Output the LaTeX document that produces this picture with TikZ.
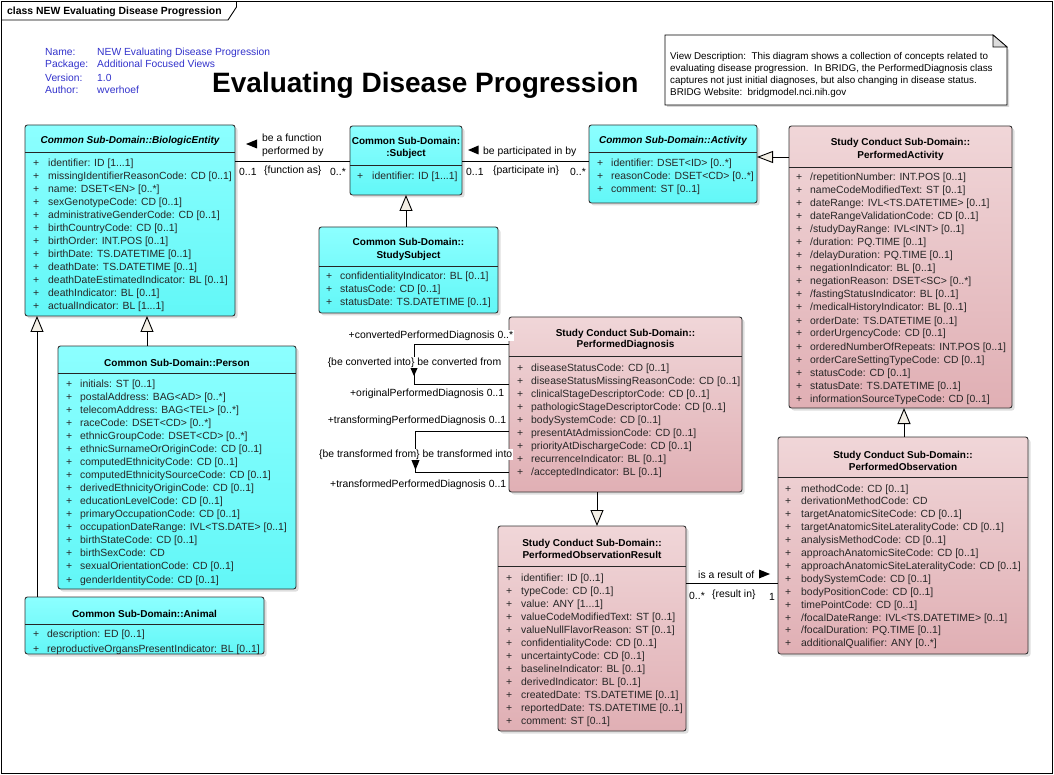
\documentclass[tikz,border=0pt]{standalone}
\usepackage{fontspec}
\setmainfont{Liberation Sans}
\usetikzlibrary{arrows.meta,shadows}

\definecolor{cyanT}{HTML}{8CFFFF}
\definecolor{cyanB}{HTML}{62F7F7}
\definecolor{pinkT}{HTML}{F0D6D8}
\definecolor{pinkB}{HTML}{E0AFB4}
\definecolor{genfill}{HTML}{F3EFE6}
\definecolor{metablue}{HTML}{3333CC}
\definecolor{foldgray}{HTML}{DCDCDC}

\newcommand{\attrfont}{\fontsize{10.4}{13}\selectfont}
\newcommand{\ttlfont}{\fontsize{10}{12}\selectfont\bfseries}
\newcommand{\metafont}{\fontsize{10.3}{12.5}\selectfont}
\newcommand{\notefont}{\fontsize{9.85}{12}\selectfont}
\newcommand{\tdd}{...}

\newcommand{\attrlist}[5]{%
  \foreach \aitem [count=\ai from 0] in {#5} {
    \node[attr] at (#1, #3+\ai*#4) {+};
    \node[attr] at (#2, #3+\ai*#4) {\aitem};
  }}

\tikzset{
 box/.style={draw=black!80, line width=0.9pt, rounded corners=2.5pt, anchor=north west, inner sep=0pt, outer sep=0pt,
   drop shadow={shadow xshift=2.5pt, shadow yshift=-2.5pt, fill=black!25, opacity=0.5}},
 cyanbox/.style={box, top color=cyanT, bottom color=cyanB},
 pinkbox/.style={box, top color=pinkT, bottom color=pinkB},
 sepline/.style={draw=black!85, line width=0.9pt},
 attr/.style={anchor=base west, inner sep=0pt, font=\attrfont, text=black!85},
 ctitle/.style={anchor=base, inner sep=0pt, font=\ttlfont},
 lbl/.style={anchor=base west, inner sep=0pt, font=\attrfont},
 lblr/.style={anchor=base east, inner sep=0.6pt, font=\attrfont, fill=white},
 assoc/.style={draw=black, line width=0.9pt},
 gen/.style={draw=black, line width=0.9pt, -{Triangle[length=16pt,width=13pt,fill=genfill]}},
 dirtri/.style={fill=black},
 meta/.style={anchor=base west, inner sep=0pt, font=\metafont, text=metablue},
}

\begin{document}
\begin{tikzpicture}[x=1pt,y=-1pt]
\useasboundingbox (0,0) rectangle (1054,775);
\fill[white] (0,0) rectangle (1054,775);

% frame and tab
\draw[line width=0.9pt] (1.5,1.5) rectangle (1052,773);
\draw[line width=0.9pt] (1.5,20) -- (228,20) -- (236.5,7) -- (236.5,1.5);
\node[anchor=base west, inner sep=0pt, font=\fontsize{10.4}{12}\selectfont\bfseries] (tab) at (7,14.5) {class NEW Evaluating Disease Progression};

% metadata
\node[meta] (mName) at (45,55.5) {Name:};
\node[meta] (mPack) at (45,68) {Package:};
\node[meta] (mVer) at (45,81.5) {Version:};
\node[meta] (mAuth) at (45,94) {Author:};
\node[meta] (vName) at (97,55.5) {NEW Evaluating Disease Progression};
\node[meta] (vPack) at (97,68) {Additional Focused Views};
\node[meta] (vVer) at (97,81.5) {1.0};
\node[meta] (vAuth) at (97,94) {wverhoef};

% big title
\node[anchor=base west, inner sep=0pt, font=\fontsize{28}{32}\selectfont\bfseries] (bigtitle) at (212,93) {Evaluating Disease Progression};

% note
\fill[black!15] (667,37) -- (995,37) -- (1009,50) -- (1009,107) -- (667,107) -- cycle;
\filldraw[fill=white, draw=black, line width=0.9pt] (665,35) -- (993,35) -- (1007,47) -- (1007,105) -- (665,105) -- cycle;
\filldraw[fill=foldgray, draw=black, line width=0.7pt] (993,35) -- (993,47) -- (1007,47) -- cycle;
\node[anchor=base west, inner sep=0pt, font=\notefont] (n1) at (670,60) {View Description:\ \ This diagram shows a collection of concepts related to};
\node[anchor=base west, inner sep=0pt, font=\notefont] (n2) at (670,72) {evaluating disease progression.\ \ In BRIDG, the PerformedDiagnosis class};
\node[anchor=base west, inner sep=0pt, font=\notefont] (n3) at (670,84) {captures not just initial diagnoses, but also changing in disease status.};
\node[anchor=base west, inner sep=0pt, font=\notefont] (n4) at (670,96) {BRIDG Website:\ \ bridgmodel.nci.nih.gov};

% ---------- class boxes ----------
\node[cyanbox, minimum width=210pt, minimum height=191pt] (be) at (25,125) {};
\node[cyanbox, minimum width=112pt, minimum height=69pt] (subj) at (350,126) {};
\node[cyanbox, minimum width=179pt, minimum height=86pt] (ss) at (319,227) {};
\node[cyanbox, minimum width=168pt, minimum height=78pt] (act) at (589,125) {};
\node[pinkbox, minimum width=223pt, minimum height=282pt] (pa) at (789,126) {};
\node[pinkbox, minimum width=233pt, minimum height=175pt] (pd) at (509,317) {};
\node[pinkbox, minimum width=250pt, minimum height=217pt] (po) at (778,437) {};
\node[pinkbox, minimum width=188pt, minimum height=205pt] (por) at (498,526) {};
\node[cyanbox, minimum width=238pt, minimum height=243pt] (person) at (58,346) {};
\node[cyanbox, minimum width=239pt, minimum height=57pt] (animal) at (25,597) {};

% separators
\draw[sepline] (be.west |- 0,152) -- (be.east |- 0,152);
\draw[sepline] (subj.west |- 0,165) -- (subj.east |- 0,165);
\draw[sepline] (ss.west |- 0,266) -- (ss.east |- 0,266);
\draw[sepline] (act.west |- 0,152) -- (act.east |- 0,152);
\draw[sepline] (pa.west |- 0,167) -- (pa.east |- 0,167);
\draw[sepline] (pd.west |- 0,356) -- (pd.east |- 0,356);
\draw[sepline] (po.west |- 0,477) -- (po.east |- 0,477);
\draw[sepline] (por.west |- 0,566) -- (por.east |- 0,566);
\draw[sepline] (person.west |- 0,373) -- (person.east |- 0,373);
\draw[sepline] (animal.west |- 0,624) -- (animal.east |- 0,624);

% titles
\node[ctitle, font=\ttlfont\itshape] (beT) at (130,144) {Common Sub-Domain::BiologicEntity};
\node[ctitle] (subjT1) at (406,144.5) {Common Sub-Domain:};
\node[ctitle] (subjT2) at (406,157) {:Subject};
\node[ctitle] (ssT1) at (408.5,246) {Common Sub-Domain::};
\node[ctitle] (ssT2) at (408.5,259) {StudySubject};
\node[ctitle, font=\ttlfont\itshape] (actT) at (673,144) {Common Sub-Domain::Activity};
\node[ctitle] (paT1) at (900.5,146) {Study Conduct Sub-Domain::};
\node[ctitle] (paT2) at (900.5,159) {PerformedActivity};
\node[ctitle] (pdT1) at (625.5,336) {Study Conduct Sub-Domain::};
\node[ctitle] (pdT2) at (625.5,348) {PerformedDiagnosis};
\node[ctitle] (poT1) at (903,458) {Study Conduct Sub-Domain::};
\node[ctitle] (poT2) at (903,470) {PerformedObservation};
\node[ctitle] (porT1) at (592,546) {Study Conduct Sub-Domain::};
\node[ctitle] (porT2) at (592,558) {PerformedObservationResult};
\node[ctitle] (personT) at (177,366) {Common Sub-Domain::Person};
\node[ctitle] (animalT) at (144.5,617) {Common Sub-Domain::Animal};

% attributes
\attrlist{33}{48}{166.5}{13}{{identifier: ID [1\tdd1]},{missingIdentifierReasonCode: CD [0..1]},{name: DSET<EN> [0..*]},{sexGenotypeCode: CD [0..1]},{administrativeGenderCode: CD [0..1]},{birthCountryCode: CD [0..1]},{birthOrder: INT.POS [0..1]},{birthDate: TS.DATETIME [0..1]},{deathDate: TS.DATETIME [0..1]},{deathDateEstimatedIndicator: BL [0..1]},{deathIndicator: BL [0..1]},{actualIndicator: BL [1\tdd1]}}
\attrlist{357}{372}{180}{13}{{identifier: ID [1\tdd1]}}
\attrlist{326}{340}{280}{13}{{confidentialityIndicator: BL [0..1]},{statusCode: CD [0..1]},{statusDate: TS.DATETIME [0..1]}}
\attrlist{597}{611}{167}{13}{{identifier: DSET<ID> [0..*]},{reasonCode: DSET<CD> [0..*]},{comment: ST [0..1]}}
\attrlist{796}{810}{181}{13}{{/repetitionNumber: INT.POS [0..1]},{nameCodeModifiedText: ST [0..1]},{dateRange: IVL<TS.DATETIME> [0..1]},{dateRangeValidationCode: CD [0..1]},{/studyDayRange: IVL<INT> [0..1]},{/duration: PQ.TIME [0..1]},{/delayDuration: PQ.TIME [0..1]},{negationIndicator: BL [0..1]},{negationReason: DSET<SC> [0..*]},{/fastingStatusIndicator: BL [0..1]},{/medicalHistoryIndicator: BL [0..1]},{orderDate: TS.DATETIME [0..1]},{orderUrgencyCode: CD [0..1]},{orderedNumberOfRepeats: INT.POS [0..1]},{orderCareSettingTypeCode: CD [0..1]},{statusCode: CD [0..1]},{statusDate: TS.DATETIME [0..1]},{informationSourceTypeCode: CD [0..1]}}
\attrlist{517}{531}{371}{13}{{diseaseStatusCode: CD [0..1]},{diseaseStatusMissingReasonCode: CD [0..1]},{clinicalStageDescriptorCode: CD [0..1]},{pathologicStageDescriptorCode: CD [0..1]},{bodySystemCode: CD [0..1]},{presentAtAdmissionCode: CD [0..1]},{priorityAtDischargeCode: CD [0..1]},{recurrenceIndicator: BL [0..1]},{/acceptedIndicator: BL [0..1]}}
\attrlist{785}{801}{492}{12.9}{{methodCode: CD [0..1]},{derivationMethodCode: CD},{targetAnatomicSiteCode: CD [0..1]},{targetAnatomicSiteLateralityCode: CD [0..1]},{analysisMethodCode: CD [0..1]},{approachAnatomicSiteCode: CD [0..1]},{approachAnatomicSiteLateralityCode: CD [0..1]},{bodySystemCode: CD [0..1]},{bodyPositionCode: CD [0..1]},{timePointCode: CD [0..1]},{/focalDateRange: IVL<TS.DATETIME> [0..1]},{/focalDuration: PQ.TIME [0..1]},{additionalQualifier: ANY [0..*]}}
\attrlist{506}{521}{581}{13}{{identifier: ID [0..1]},{typeCode: CD [0..1]},{value: ANY [1\tdd1]},{valueCodeModifiedText: ST [0..1]},{valueNullFlavorReason: ST [0..1]},{confidentialityCode: CD [0..1]},{uncertaintyCode: CD [0..1]},{baselineIndicator: BL [0..1]},{derivedIndicator: BL [0..1]},{createdDate: TS.DATETIME [0..1]},{reportedDate: TS.DATETIME [0..1]},{comment: ST [0..1]}}
\attrlist{66}{80}{387}{13.07}{{initials: ST [0..1]},{postalAddress: BAG<AD> [0..*]},{telecomAddress: BAG<TEL> [0..*]},{raceCode: DSET<CD> [0..*]},{ethnicGroupCode: DSET<CD> [0..*]},{ethnicSurnameOrOriginCode: CD [0..1]},{computedEthnicityCode: CD [0..1]},{computedEthnicitySourceCode: CD [0..1]},{derivedEthnicityOriginCode: CD [0..1]},{educationLevelCode: CD [0..1]},{primaryOccupationCode: CD [0..1]},{occupationDateRange: IVL<TS.DATE> [0..1]},{birthStateCode: CD [0..1]},{birthSexCode: CD},{sexualOrientationCode: CD [0..1]},{genderIdentityCode: CD [0..1]}}
\attrlist{33}{47}{637}{15}{{description: ED [0..1]},{reproductiveOrgansPresentIndicator: BL [0..1]}}

% ---------- connectors ----------
% associations
\draw[assoc] (be.east |- 0,161) -- (subj.west |- 0,161);
\draw[assoc] (subj.east |- 0,161) -- (act.west |- 0,161);
\draw[assoc] (por.east |- 0,583) -- (po.west |- 0,583);

% generalizations
\draw[gen] (ss.north -| 406,0) -- (subj.south -| 406,0);
\draw[gen, -{Triangle[length=16pt,width=12pt,fill=genfill]}] (pa.west |- 0,157) -- (act.east |- 0,157);
\draw[gen] (po.north -| 904,0) -- (pa.south -| 904,0);
\draw[gen] (pd.south -| 597,0) -- (por.north -| 597,0);
\draw[gen] (person.north -| 147,0) -- (be.south -| 147,0);
\draw[gen] (animal.north -| 37,0) -- (be.south -| 37,0);

% self associations on PerformedDiagnosis
\draw[assoc] (pd.west |- 0,344) -- (414,344) -- (414,384) -- (pd.west |- 0,384);
\draw[assoc] (pd.west |- 0,431) -- (415.5,431) -- (415.5,472) -- (pd.west |- 0,472);
\fill[dirtri] (414,376) -- (409.5,366) -- (418.5,366) -- cycle;
\fill[dirtri] (415.5,470) -- (411,459) -- (420,459) -- cycle;

% association labels
\node[lbl] (l1a) at (262,141.5) {be a function};
\node[lbl] (l1b) at (262,155) {performed by};
\fill[dirtri] (246,144) -- (257,139.5) -- (257,148.5) -- cycle;
\node[lbl] (l1c) at (239,175.5) {0..1};
\node[lbl] (l1d) at (264,174) {\{function as\}};
\node[lbl] (l1e) at (330,175.5) {0..*};

\node[lbl] (l2a) at (483,155) {be participated in by};
\fill[dirtri] (468,150) -- (478.5,145.5) -- (478.5,154.5) -- cycle;
\node[lbl] (l2c) at (466,175.5) {0..1};
\node[lbl] (l2d) at (493,174) {\{participate in\}};
\node[lbl] (l2e) at (570,175.5) {0..*};

\node[lbl] (l3a) at (698,578) {is a result of};
\fill[dirtri] (770,574) -- (759,569.5) -- (759,578.5) -- cycle;
\node[lbl] (l3c) at (689,599) {0..*};
\node[lbl] (l3d) at (712,597) {\{result in\}};
\node[lbl] (l3e) at (769,600) {1};

\node[lblr] (s1) at (514,338) {+convertedPerformedDiagnosis 0..*};
\node[lblr] (s2) at (502,365) {\{be converted into\} be converted from};
\node[lblr] (s3) at (505,396) {+originalPerformedDiagnosis 0..1};
\node[lblr] (s4) at (507,423) {+transformingPerformedDiagnosis 0..1};
\node[lblr] (s5) at (513,457) {\{be transformed from\} be transformed into};
\node[lblr] (s6) at (507,487) {+transformedPerformedDiagnosis 0..1};
\end{tikzpicture}
\end{document}
